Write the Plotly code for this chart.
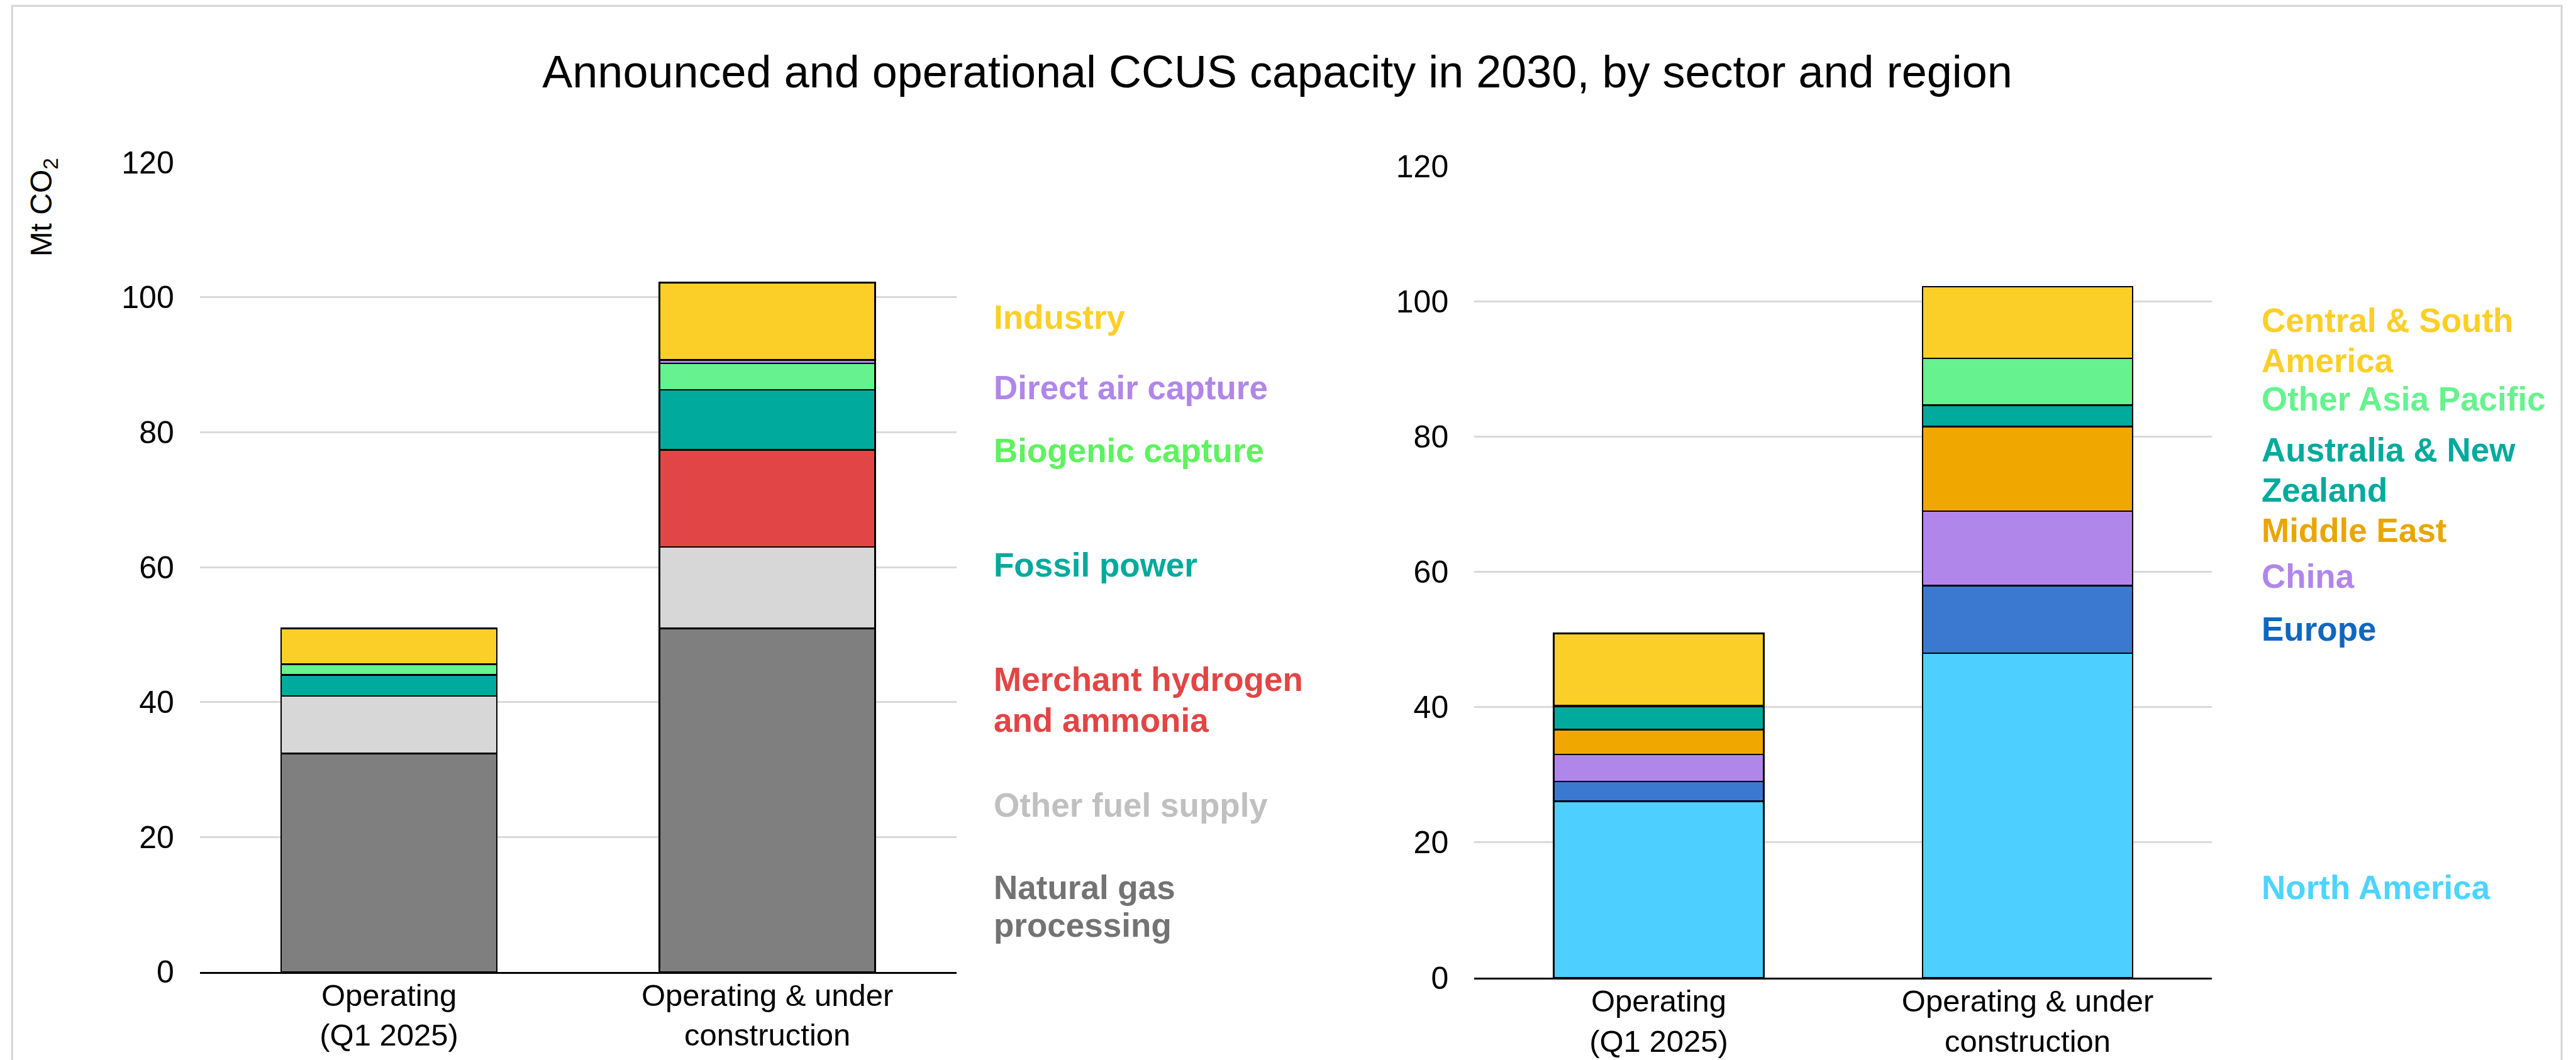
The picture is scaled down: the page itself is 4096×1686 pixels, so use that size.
import plotly.graph_objects as go

# ---------------- data ----------------
categories = ["Operating<br>(Q1 2025)", "Operating & under<br>construction"]

sectors = ["Natural gas processing", "Other fuel supply", "Merchant hydrogen and ammonia",
           "Fossil power", "Biogenic capture", "Direct air capture", "Industry"]
natural_gas = [32.4, 50.9]
other_fuel = [8.5, 12.1]
merchant_h2 = [0.0, 14.4]
fossil_power = [3.1, 8.9]
biogenic = [1.6, 3.9]
dac = [0.0, 0.5]
industry = [5.3, 11.5]
sector_values = [natural_gas, other_fuel, merchant_h2, fossil_power, biogenic, dac, industry]

regions = ["North America", "Europe", "China", "Middle East",
           "Australia & New Zealand", "Other Asia Pacific", "Central & South America"]
north_america = [26.1, 48.0]
europe = [2.9, 10.0]
china = [4.0, 11.0]
middle_east = [3.7, 12.5]
aus_nz = [3.4, 3.2]
other_asia = [0.1, 6.9]
central_south_am = [10.7, 10.6]
region_values = [north_america, europe, china, middle_east, aus_nz, other_asia, central_south_am]

y_ticks = [0, 20, 40, 60, 80, 100, 120]

# ---------------- styles ----------------
sector_bar_colors = ["#7F7F7F", "#D7D7D7", "#E24545", "#00AA9C", "#66F28E", "#B186EA", "#FBCF27"]
sector_text_colors = ["#737373", "#C0C0C0", "#E24545", "#00AA9C", "#5EF25E", "#B186EA", "#FBCF27"]
region_bar_colors = ["#4DD0FF", "#3B78D0", "#B186EA", "#F0A800", "#00AA9C", "#66F28E", "#FBCF27"]
region_text_colors = ["#4DD4FF", "#0F67C0", "#B186EA", "#E8A600", "#00AA9C", "#66F28E", "#FBCF27"]

FW, FH = 4473.0, 1841.0  # reference pixel space
W, H = 4096, 1686


def px(x):
    return x / FW


def py(y):
    return 1 - y / FH


FONT = "Liberation Sans, Arial, Helvetica, sans-serif"

fig = go.Figure()

for name, vals, col in zip(sectors, sector_values, sector_bar_colors):
    fig.add_trace(go.Bar(x=categories, y=vals, name=name, marker_color=col,
                         marker_line_color="black", marker_line_width=2.6,
                         xaxis="x", yaxis="y", showlegend=False))

for name, vals, col in zip(regions, region_values, region_bar_colors):
    fig.add_trace(go.Bar(x=categories, y=vals, name=name, marker_color=col,
                         marker_line_color="black", marker_line_width=2.6,
                         xaxis="x2", yaxis="y2", showlegend=False))

yax = dict(range=[0, 120], tickvals=y_ticks, showgrid=True, gridcolor="#D9D9D9", gridwidth=3,
           zeroline=False, showline=False, ticks="", ticklabelstandoff=40, automargin=False,
           tickfont=dict(family=FONT, size=50, color="black"), fixedrange=True)
xax = dict(showline=True, linecolor="black", linewidth=3, ticks="", showgrid=False, automargin=False,
           tickfont=dict(family=FONT, size=49, color="black"), ticklabelstandoff=-8, fixedrange=True)

fig.update_layout(
    width=W, height=H,
    margin=dict(l=0, r=0, t=0, b=0, pad=0, autoexpand=False),
    paper_bgcolor="white", plot_bgcolor="white",
    barmode="stack", bargap=0.43,
    title=dict(text="Announced and operational CCUS capacity in 2030, by sector and region",
               x=px(2218), y=py(124), xanchor="center", yanchor="middle",
               font=dict(family=FONT, size=72, color="black")),
    xaxis=dict(domain=[px(347), px(1661)], anchor="y", **xax),
    yaxis=dict(domain=[py(1688), py(282)], anchor="x", **yax),
    xaxis2=dict(domain=[px(2560), px(3841)], anchor="y2", **xax),
    yaxis2=dict(domain=[py(1698), py(289)], anchor="x2", **yax),
)

annotations = []
# y-axis title
annotations.append(dict(text="Mt CO<sub>2</sub>", x=px(75), y=py(360), xref="paper", yref="paper",
                        textangle=-90, showarrow=False, xanchor="center", yanchor="middle",
                        font=dict(family=FONT, size=48, color="black")))

# left labels (lines, centre y in reference px)
sector_label_lines = [
    (["Natural gas", "processing"], [1541, 1607]),
    (["Other fuel supply"], [1398]),
    (["Merchant hydrogen", "and ammonia"], [1180, 1251]),
    (["Fossil power"], [981]),
    (["Biogenic capture"], [782]),
    (["Direct air capture"], [673]),
    (["Industry"], [551]),
]
for (lines, ys), col in zip(sector_label_lines, sector_text_colors):
    for line, yy in zip(lines, ys):
        annotations.append(dict(text="<b>%s</b>" % line, x=px(1723), y=py(yy), xref="paper", yref="paper",
                                showarrow=False, xanchor="left", yanchor="middle",
                                font=dict(family=FONT, size=53, color=col)))

region_label_lines = [
    (["North America"], [1541]),
    (["Europe"], [1092]),
    (["China"], [1001]),
    (["Middle East"], [921]),
    (["Australia & New", "Zealand"], [781, 851]),
    (["Other Asia Pacific"], [693]),
    (["Central & South", "America"], [556, 626]),
]
for (lines, ys), col in zip(region_label_lines, region_text_colors):
    for line, yy in zip(lines, ys):
        annotations.append(dict(text="<b>%s</b>" % line, x=px(3925), y=py(yy), xref="paper", yref="paper",
                                showarrow=False, xanchor="left", yanchor="middle",
                                font=dict(family=FONT, size=53, color=col)))

fig.update_layout(annotations=annotations)

# card border
fig.add_shape(type="rect", xref="paper", yref="paper",
              x0=px(21), x1=px(4448), y0=-0.05, y1=py(10),
              line=dict(color="#D4D4D4", width=3), fillcolor="rgba(0,0,0,0)", layer="below")

fig.write_html("out.html", config={"displayModeBar": False},
               post_script="document.body.style.margin='0';document.body.style.overflow='hidden';")
